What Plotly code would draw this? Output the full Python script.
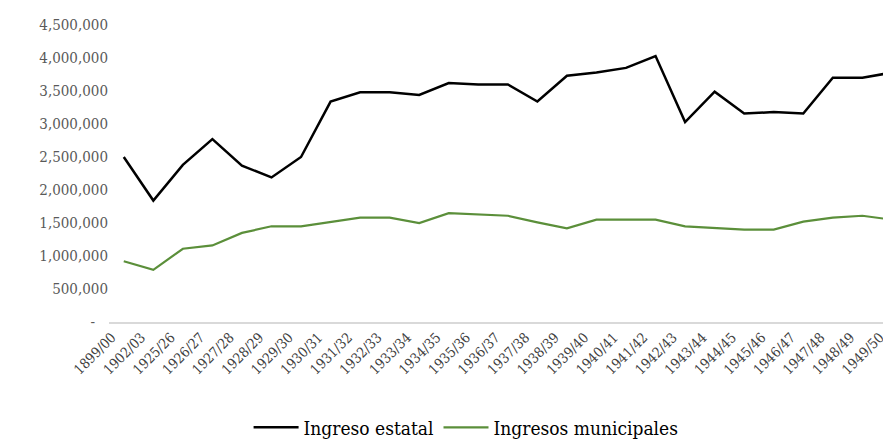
import plotly.graph_objects as go

years = ["1899/00", "1902/03", "1925/26", "1926/27", "1927/28", "1928/29", "1929/30",
         "1930/31", "1931/32", "1932/33", "1933/34", "1934/35", "1935/36", "1936/37",
         "1937/38", "1938/39", "1939/40", "1940/41", "1941/42", "1942/43", "1943/44",
         "1944/45", "1945/46", "1946/47", "1947/48", "1948/49", "1949/50"]

ingreso_estatal = [2500000, 1840000, 2380000, 2770000, 2370000, 2190000, 2500000,
                   3340000, 3480000, 3480000, 3440000, 3620000, 3600000, 3600000,
                   3340000, 3730000, 3780000, 3850000, 4030000, 3030000, 3490000,
                   3160000, 3180000, 3160000, 3700000, 3700000, 3780000]

ingresos_municipales = [920000, 790000, 1110000, 1160000, 1350000, 1450000, 1450000,
                        1520000, 1580000, 1580000, 1500000, 1650000, 1630000, 1610000,
                        1510000, 1420000, 1550000, 1550000, 1550000, 1450000, 1430000,
                        1400000, 1400000, 1520000, 1580000, 1610000, 1550000]

ytick_vals = [0, 500000, 1000000, 1500000, 2000000, 2500000, 3000000, 3500000, 4000000, 4500000]
ytick_text = ["-\u00a0\u00a0\u00a0", "500,000", "1,000,000", "1,500,000", "2,000,000",
              "2,500,000", "3,000,000", "3,500,000", "4,000,000", "4,500,000"]

FONT = "DejaVu Serif Condensed"

fig = go.Figure()
fig.add_trace(go.Scatter(x=years, y=ingreso_estatal, mode="lines", name="Ingreso estatal",
                         line=dict(color="#000000", width=2.5)))
fig.add_trace(go.Scatter(x=years, y=ingresos_municipales, mode="lines", name="Ingresos municipales",
                         line=dict(color="#5b8f3a", width=2.2)))

fig.update_layout(
    width=891, height=439,
    margin=dict(l=101, r=0, t=17, b=119),
    paper_bgcolor="white", plot_bgcolor="white",
    font=dict(family=FONT, color="#404040"),
    showlegend=True,
    legend=dict(orientation="h", x=0.452, xanchor="center", y=-0.355, yanchor="middle",
                font=dict(family=FONT, size=19, color="#000000"), itemwidth=45,
                tracegroupgap=0),
    xaxis=dict(type="category", range=[-0.5, 26.24], tickangle=-45,
               tickfont=dict(family=FONT, size=14, color="#404040"),
               ticklabelshift=-12,
               showgrid=False, showline=True, linecolor="#d9d9d9", linewidth=1.5,
               ticks="", zeroline=False),
    yaxis=dict(range=[0, 4500000], tickvals=ytick_vals, ticktext=ytick_text,
               tickfont=dict(family=FONT, size=15, color="#595959"),
               showgrid=False, showline=False, zeroline=False, ticks="", ticklen=0),
)

fig.write_html("out.html")
